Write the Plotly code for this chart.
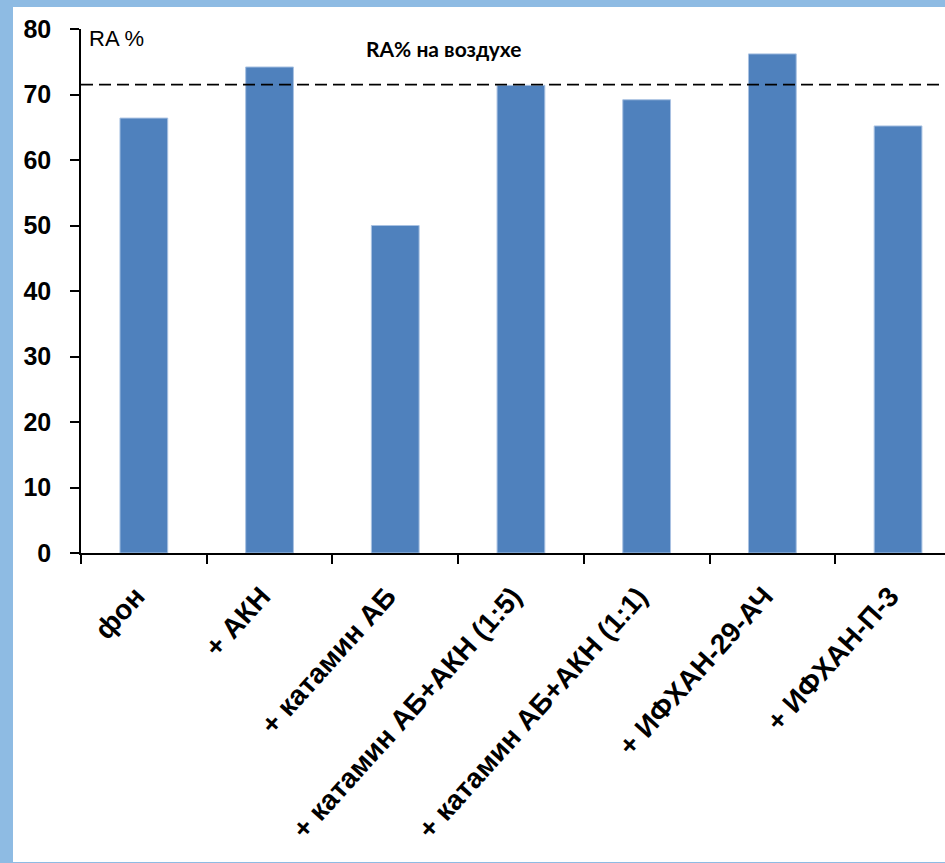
import plotly.graph_objects as go

categories = ["фон", "+ АКН", "+ катамин АБ", "+ катамин АБ+АКН (1:5)",
              "+ катамин АБ+АКН (1:1)", "+ ИФХАН-29-АЧ", "+ ИФХАН-П-3"]
values = [66.4, 74.2, 50.0, 71.4, 69.2, 76.2, 65.2]
air_level = 71.5
y_ticks = [0, 10, 20, 30, 40, 50, 60, 70, 80]

W, H = 945, 863
L, R, T, B = 81, 0, 29, 310
pw, ph = W - L - R, H - T - B

def px(x):
    return (x - L) / pw

def py(y):
    return (H - B - y) / ph

fig = go.Figure()
fig.add_trace(go.Bar(
    x=categories, y=values, width=0.38,
    marker=dict(color="#4F81BD", line=dict(color="#A9C2E2", width=1)),
))

fig.add_shape(type="rect", xref="paper", yref="paper",
              x0=px(13), x1=px(W + 5), y0=py(862), y1=py(7),
              fillcolor="white", line=dict(width=0), layer="below")
fig.add_shape(type="line", xref="paper", yref="y",
              x0=0, x1=1, y0=air_level, y1=air_level,
              line=dict(color="black", width=1.8, dash="12px,6px"))

fig.add_annotation(text="RA %", xref="paper", yref="paper",
                   x=px(87), y=py(38), xanchor="left", yanchor="middle",
                   showarrow=False,
                   font=dict(family="Liberation Sans", size=22, color="black"))
fig.add_annotation(text="RA% на воздухе", xref="paper", yref="paper",
                   x=px(364), y=py(49), xanchor="left", yanchor="middle",
                   showarrow=False,
                   font=dict(family="Lato", size=21, color="black", weight="bold"))

fig.update_layout(
    width=W, height=H,
    margin=dict(l=L, r=R, t=T, b=B),
    paper_bgcolor="#8EBBE3",
    plot_bgcolor="rgba(0,0,0,0)",
    showlegend=False,
    bargap=0.62,
)
fig.update_xaxes(
    type="category", range=[-0.5, -0.5 + pw / 125.7],
    showline=True, linecolor="black", linewidth=1.5,
    ticks="outside", tickson="boundaries", ticklen=9, tickcolor="black", tickwidth=1.5,
    tickangle=-48, ticklabelstandoff=14, ticklabelshift=-8,
    tickfont=dict(family="Liberation Sans", size=28, color="black", weight="bold"),
    showgrid=False, zeroline=False,
)
fig.update_yaxes(
    range=[0, 80], tickvals=y_ticks,
    showline=True, linecolor="black", linewidth=1.5,
    ticks="outside", ticklen=9, tickcolor="black", tickwidth=1.5,
    ticklabelstandoff=14,
    tickfont=dict(family="Liberation Sans", size=25, color="black", weight="bold"),
    showgrid=False, zeroline=False,
)

fig.write_html("out.html")
